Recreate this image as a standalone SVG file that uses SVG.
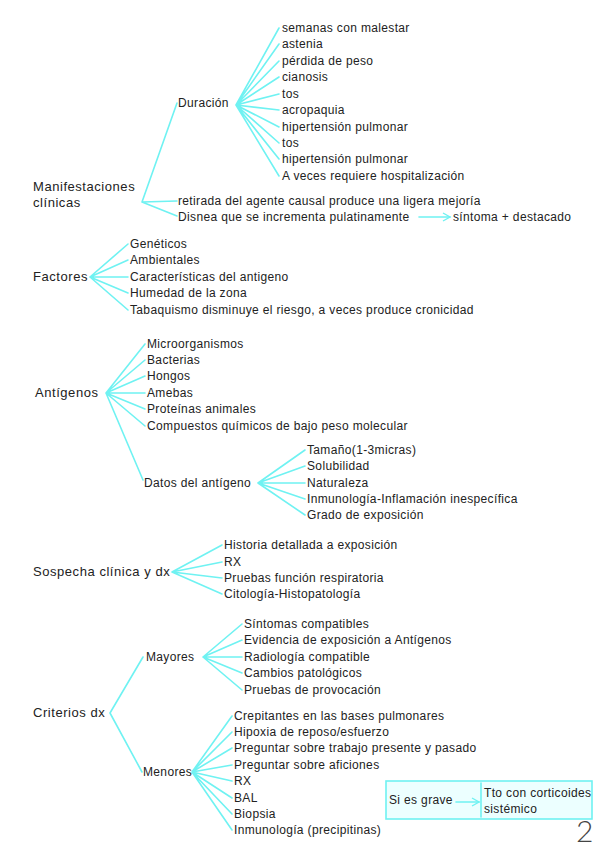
<svg xmlns="http://www.w3.org/2000/svg" width="599" height="848" viewBox="0 0 599 848">
<defs>
<style>
text{font-family:"Liberation Sans",Arial,sans-serif;fill:#222;font-size:12px;letter-spacing:0.35px}
.t{font-size:13px;letter-spacing:0.55px}
.c{fill:none;stroke:#6ff2f2;stroke-width:1.6;stroke-linecap:round}
</style>
<marker id="ah" markerWidth="10" markerHeight="10" refX="8" refY="5" orient="auto" markerUnits="userSpaceOnUse">
<path d="M1,1 L8,5 L1,9" fill="none" stroke="#6ff2f2" stroke-width="1.4"/>
</marker>
</defs>
<rect width="599" height="848" fill="#fff"/>
<g id="grave-box">
<rect x="386" y="781" width="206" height="38" fill="#ecffff" stroke="#6ff2f2" stroke-width="1.6"/>
<text x="389" y="804">Si es grave</text>
<text x="484" y="797">Tto con corticoides</text>
<text x="484" y="813">sistémico</text>
</g>
<g id="connectors">
<path class="c" d="M142,202 L177,103 M142,202 L177,201 M142,202 L177,216"/>
<path class="c" d="M236,105 L279,28 M236,105 L279,44 M236,105 L279,61 M236,105 L279,77 M236,105 L279,94 M236,105 L279,110 M236,105 L279,127 M236,105 L279,143 M236,105 L279,159 M236,105 L279,176"/>
<path class="c" d="M419,217 L450,217" marker-end="url(#ah)"/>
<path class="c" d="M90,277 L128,244 M90,277 L128,260 M90,277 L128,277 M90,277 L128,293 M90,277 L128,310"/>
<path class="c" d="M106,393 L145,344 M106,393 L145,360 M106,393 L145,376 M106,393 L145,393 M106,393 L145,409 M106,393 L145,426 M106,393 L143,480"/>
<path class="c" d="M258,483 L305,450 M258,483 L305,466 M258,483 L305,483 M258,483 L305,499 M258,483 L305,515"/>
<path class="c" d="M172,572 L222,545 M172,572 L222,562 M172,572 L222,578 M172,572 L222,594"/>
<path class="c" d="M110,713 L143,657 M110,713 L142,772"/>
<path class="c" d="M203,657 L242,624 M203,657 L242,640 M203,657 L242,657 M203,657 L242,673 M203,657 L242,690"/>
<path class="c" d="M192,772 L232,716 M192,772 L232,732 M192,772 L232,748 M192,772 L232,765 M192,772 L232,781 M192,772 L232,798 M192,772 L232,814 M192,772 L232,830"/>
<path class="c" d="M456,802 L479,802" marker-end="url(#ah)"/>
<path class="c" d="M481,783 L481,817"/>
</g>
<g id="manifestaciones"><text class="t" x="33" y="191">Manifestaciones</text><text class="t" x="33" y="207">clínicas</text></g>
<g id="duracion"><text x="178" y="107">Duración</text></g>
<g id="duracion-items">
<text x="282" y="32">semanas con malestar</text>
<text x="282" y="48">astenia</text>
<text x="282" y="65">pérdida de peso</text>
<text x="282" y="81">cianosis</text>
<text x="282" y="98">tos</text>
<text x="282" y="114">acropaquia</text>
<text x="282" y="131">hipertensión pulmonar</text>
<text x="282" y="147">tos</text>
<text x="282" y="163">hipertensión pulmonar</text>
<text x="282" y="180">A veces requiere hospitalización</text>
</g>
<g id="retirada"><text x="178" y="205">retirada del agente causal produce una ligera mejoría</text></g>
<g id="disnea"><text x="178" y="221">Disnea que se incrementa pulatinamente</text></g>
<g id="sintoma"><text x="453" y="221">síntoma + destacado</text></g>
<g id="factores"><text class="t" x="33" y="281">Factores</text></g>
<g id="factores-items">
<text x="130" y="248">Genéticos</text>
<text x="130" y="264">Ambientales</text>
<text x="130" y="281">Características del antigeno</text>
<text x="130" y="297">Humedad de la zona</text>
<text x="130" y="314">Tabaquismo disminuye el riesgo, a veces produce cronicidad</text>
</g>
<g id="antigenos"><text class="t" x="35" y="397">Antígenos</text></g>
<g id="antigenos-items">
<text x="147" y="348">Microorganismos</text>
<text x="147" y="364">Bacterias</text>
<text x="147" y="380">Hongos</text>
<text x="147" y="397">Amebas</text>
<text x="147" y="413">Proteínas animales</text>
<text x="147" y="430">Compuestos químicos de bajo peso molecular</text>
</g>
<g id="datos"><text x="144" y="487">Datos del antígeno</text></g>
<g id="datos-items">
<text x="307" y="454">Tamaño(1-3micras)</text>
<text x="307" y="470">Solubilidad</text>
<text x="307" y="487">Naturaleza</text>
<text x="307" y="503">Inmunología-Inflamación inespecífica</text>
<text x="307" y="519">Grado de exposición</text>
</g>
<g id="sospecha"><text class="t" x="33" y="576">Sospecha clínica y dx</text></g>
<g id="sospecha-items">
<text x="224" y="549">Historia detallada a exposición</text>
<text x="224" y="566">RX</text>
<text x="224" y="582">Pruebas función respiratoria</text>
<text x="224" y="598">Citología-Histopatología</text>
</g>
<g id="criterios"><text class="t" x="33" y="717">Criterios dx</text></g>
<g id="mayores"><text x="146" y="661">Mayores</text></g>
<g id="mayores-items">
<text x="244" y="628">Síntomas compatibles</text>
<text x="244" y="644">Evidencia de exposición a Antígenos</text>
<text x="244" y="661">Radiología compatible</text>
<text x="244" y="677">Cambios patológicos</text>
<text x="244" y="694">Pruebas de provocación</text>
</g>
<g id="menores"><text x="143" y="776">Menores</text></g>
<g id="menores-items">
<text x="234" y="720">Crepitantes en las bases pulmonares</text>
<text x="234" y="736">Hipoxia de reposo/esfuerzo</text>
<text x="234" y="752">Preguntar sobre trabajo presente y pasado</text>
<text x="234" y="769">Preguntar sobre aficiones</text>
<text x="234" y="785">RX</text>
<text x="234" y="802">BAL</text>
<text x="234" y="818">Biopsia</text>
<text x="234" y="834">Inmunología (precipitinas)</text>
</g>
<g id="page-number"><text x="576" y="842" style="font-size:30px;font-weight:300;letter-spacing:0;fill:#444;font-family:Lato,'Liberation Sans',sans-serif">2</text></g>
</svg>
